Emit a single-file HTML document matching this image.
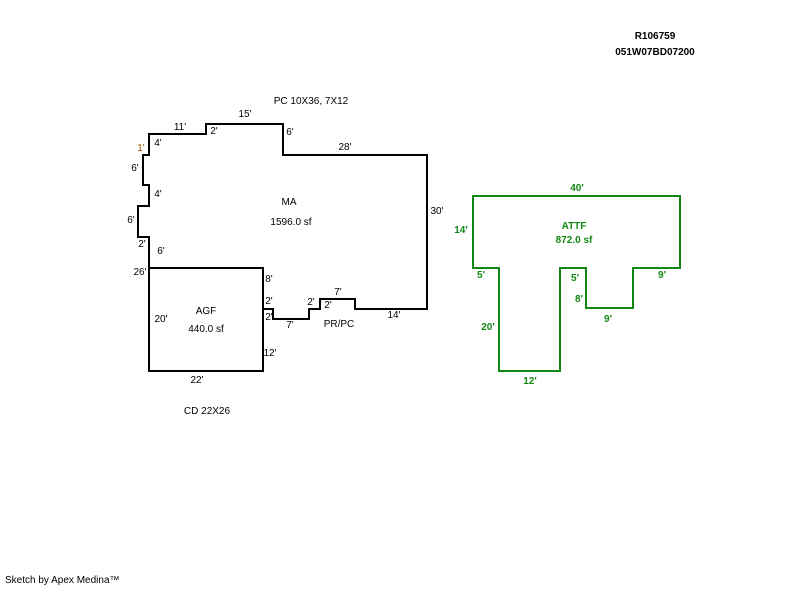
<!DOCTYPE html>
<html><head><style>
body{margin:0;background:#fff;}
text{font-family:"Liberation Sans",sans-serif;font-size:10px;}
</style></head><body>
<svg width="800" height="587" xmlns="http://www.w3.org/2000/svg">
<g fill="#000">
<text x="655" y="39" text-anchor="middle" font-weight="bold" font-size="9">R106759</text>
<text x="655" y="55" text-anchor="middle" font-weight="bold" font-size="9">051W07BD07200</text>
<text x="311" y="104" text-anchor="middle" font-size="9">PC 10X36, 7X12</text>
<text x="207" y="414" text-anchor="middle" font-size="9">CD 22X26</text>
<text x="5" y="583" font-size="9">Sketch by Apex Medina™</text>
</g>
<polyline fill="none" stroke="#000" stroke-width="2" points="149,268 149,237 138,237 138,206 149,206 149,185 143,185 143,155 149,155 149,134 206,134 206,124 283,124 283,155 427,155 427,309 355,309 355,299 320,299 320,309 309,309 309,319 273,319 273,309 263,309"/>
<rect x="149" y="268" width="114" height="103" fill="none" stroke="#000" stroke-width="2"/>
<g font-size="9" fill="#000">
<text x="180" y="130" text-anchor="middle">11'</text>
<text x="245" y="117" text-anchor="middle">15'</text>
<text x="214" y="134" text-anchor="middle">2'</text>
<text x="290" y="135" text-anchor="middle">6'</text>
<text x="345" y="150" text-anchor="middle">28'</text>
<text x="141" y="151" text-anchor="middle" fill="#a05000">1'</text>
<text x="158" y="146" text-anchor="middle">4'</text>
<text x="135" y="171" text-anchor="middle">6'</text>
<text x="158" y="197" text-anchor="middle">4'</text>
<text x="131" y="223" text-anchor="middle">6'</text>
<text x="142" y="247" text-anchor="middle">2'</text>
<text x="161" y="254" text-anchor="middle">6'</text>
<text x="140" y="275" text-anchor="middle">26'</text>
<text x="289" y="205" text-anchor="middle">MA</text>
<text x="291" y="225" text-anchor="middle">1596.0 sf</text>
<text x="437" y="214" text-anchor="middle">30'</text>
<text x="269" y="282" text-anchor="middle">8'</text>
<text x="269" y="304" text-anchor="middle">2'</text>
<text x="269" y="320" text-anchor="middle">2'</text>
<text x="290" y="328" text-anchor="middle">7'</text>
<text x="311" y="305" text-anchor="middle">2'</text>
<text x="328" y="308" text-anchor="middle">2'</text>
<text x="338" y="295" text-anchor="middle">7'</text>
<text x="339" y="327" text-anchor="middle">PR/PC</text>
<text x="394" y="318" text-anchor="middle">14'</text>
<text x="161" y="322" text-anchor="middle">20'</text>
<text x="206" y="314" text-anchor="middle">AGF</text>
<text x="206" y="332" text-anchor="middle">440.0 sf</text>
<text x="270" y="356" text-anchor="middle">12'</text>
<text x="197" y="383" text-anchor="middle">22'</text>
</g>
<polygon fill="none" stroke="#118811" stroke-width="2" points="473,196 680,196 680,268 633,268 633,308 586,308 586,268 560,268 560,371 499,371 499,268 473,268"/>
<g font-size="9" fill="#118811" font-weight="bold">
<text x="577" y="191" text-anchor="middle">40'</text>
<text x="461" y="233" text-anchor="middle">14'</text>
<text x="574" y="229" text-anchor="middle">ATTF</text>
<text x="574" y="243" text-anchor="middle">872.0 sf</text>
<text x="481" y="278" text-anchor="middle">5'</text>
<text x="575" y="281" text-anchor="middle">5'</text>
<text x="662" y="278" text-anchor="middle">9'</text>
<text x="579" y="302" text-anchor="middle">8'</text>
<text x="608" y="322" text-anchor="middle">9'</text>
<text x="488" y="330" text-anchor="middle">20'</text>
<text x="530" y="384" text-anchor="middle">12'</text>
</g>
</svg>
</body></html>
